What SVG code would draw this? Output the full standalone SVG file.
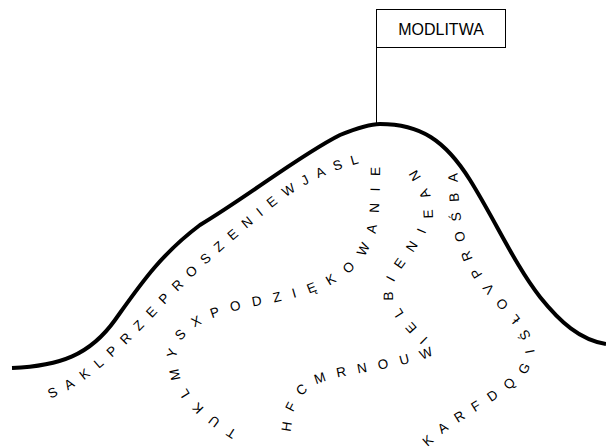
<svg xmlns="http://www.w3.org/2000/svg" xmlns:xlink="http://www.w3.org/1999/xlink" width="606" height="447" viewBox="0 0 606 447">
<style>
.mt{fill:none;stroke:#000;stroke-width:4;stroke-linecap:butt}
.pole{fill:none;stroke:#000;stroke-width:1}
.box{fill:#fff;stroke:#000;stroke-width:1}
.lbl{font-family:"Liberation Sans",Arial,sans-serif;font-size:16px;fill:#000}
.pt{font-family:"Liberation Sans",Arial,sans-serif;font-size:13.5px;fill:#000;dominant-baseline:central}
</style>
<defs>
<path id="p1" d="M 46,395 C 80,382 110,355 150,313 C 190,270 230,235 280,195 C 305,178 330,165 370,155"/>
<path id="p2" d="M 236,436 C 200,415 172,390 172,358 C 172,325 210,310 260,300 C 320,289 350,275 365,245 C 374,228 375,210 375,150"/>
<path id="p3" d="M 286,437 C 286,400 300,380 340,372 C 380,364 410,360 432,350 C 420,335 392,315 388,292 C 386,270 420,245 427,215 C 430,200 420,185 405,160"/>
<path id="p4" d="M 422,446 C 455,410 515,392 528,360 C 535,335 505,310 485,285 C 460,255 452,230 452,140"/>
</defs>
<g id="mountain">
<path class="mt" d="M 12,368 C 60,366 90,355 115,320 C 140,285 160,255 200,225 C 250,195 300,155 340,135 C 360,127 370,124 380,124 C 420,124 445,140 470,180 C 495,220 515,265 540,297 C 560,322 580,340 606,344"/>
</g>
<g id="connectors">
<line class="pole" x1="376.5" y1="47" x2="376.5" y2="124"/>
</g>
<g id="modlitwa">
<rect class="box" x="376.5" y="9.5" width="129" height="38"/>
<text class="lbl" x="441" y="34.5" text-anchor="middle">MODLITWA</text>
</g>
<g id="path1">
<text class="pt" letter-spacing="9.5"><textPath xlink:href="#p1" startOffset="2.5">SAKLPRZEPROSZENIEWJASL</textPath></text>
</g>
<g id="path2">
<text class="pt" letter-spacing="11.7"><textPath xlink:href="#p2" startOffset="1.5">TUKLMYSXPODZIĘKOWANIE</textPath></text>
</g>
<g id="path3">
<text class="pt" letter-spacing="11.4"><textPath xlink:href="#p3" startOffset="5.5">HFCMRNOUWIELBIENIEAN</textPath></text>
</g>
<g id="path4">
<text class="pt" letter-spacing="10.6"><textPath xlink:href="#p4" startOffset="3.5">KARFDQGIŚŁOVPROŚBA</textPath></text>
</g>
</svg>
